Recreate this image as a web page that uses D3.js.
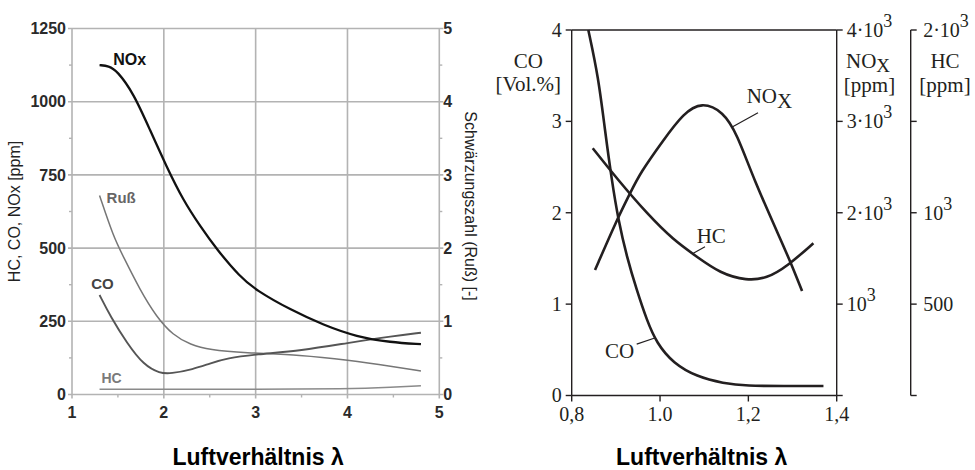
<!DOCTYPE html>
<html><head><meta charset="utf-8">
<script src="https://cdn.jsdelivr.net/npm/d3@7"></script>
<style>body{margin:0;background:#fff}</style>
</head><body><svg id="c" width="975" height="470"></svg>
<script>
// ---------- LEFT PANEL DATA ----------
const lambdaTicksL = [1, 2, 3, 4, 5];
const lambdaMinorL = [1.5, 2.5, 3.5, 4.5];
const ppmTicksL = [0, 250, 500, 750, 1000, 1250];
const ppmMinorL = [125, 375, 625, 875, 1125];
const russTicksL = [0, 1, 2, 3, 4, 5];

const noxLambdaL = [1.3, 1.4, 1.49, 1.67, 1.85, 2.03, 2.21, 2.4, 2.58, 2.83, 3.0, 3.38, 3.74, 4.1, 4.47, 4.8];
const noxPpmL    = [1125, 1122, 1106, 1029, 903, 778, 664, 573, 494, 402, 357, 289, 237, 197, 178, 172];

const russLambdaL = [1.3, 1.45, 1.56, 1.74, 1.92, 2.1, 2.29, 2.5, 2.87, 3.5, 4.0, 4.5, 4.8];
const russValL    = [2.72, 2.16, 1.88, 1.43, 1.06, 0.81, 0.68, 0.61, 0.57, 0.54, 0.47, 0.38, 0.32];

const coLambdaL = [1.3, 1.42, 1.6, 1.78, 1.96, 2.07, 2.32, 2.5, 2.69, 3.0, 3.5, 4.0, 4.5, 4.8];
const coPpmL    = [340, 266, 175, 101, 72, 71, 86, 106, 124, 137, 150, 176, 200, 211];

const hcLambdaL = [1.3, 2.0, 3.0, 4.0, 4.5, 4.8];
const hcPpmL    = [18, 18, 18, 19, 25, 30];

// ---------- RIGHT PANEL DATA ----------
const lambdaTicksR = [0.8, 1.0, 1.2, 1.4];
const lambdaLabelsR = ["0,8", "1.0", "1,2", "1,4"];
const coTicksR = [0, 1, 2, 3, 4];
const noxTickVals = [0, 1000, 2000, 3000, 4000];
const noxTickBase = ["", "10", "2·10", "3·10", "4·10"];
const noxTickExp  = ["", "3", "3", "3", "3"];
const hcTickVals = [0, 500, 1000, 1500, 2000];
const hcTickBase = ["", "500", "10", "", "2·10"];
const hcTickExp  = ["", "", "3", "", "3"];

const coLambdaR = [0.8376, 0.8602, 0.8754, 0.8906, 0.9056, 0.9246, 0.9472, 0.9699, 0.9925, 1.0301, 1.0831, 1.1434, 1.1964, 1.28, 1.37];
const coVolR    = [4.0, 3.49, 2.90, 2.36, 1.92, 1.52, 1.154, 0.826, 0.571, 0.352, 0.206, 0.133, 0.104, 0.104, 0.104];

const noxLambdaR = [0.8528, 0.9019, 0.9321, 0.9547, 1.0075, 1.0528, 1.0944, 1.1434, 1.1737, 1.2129, 1.2718, 1.2945, 1.3216];
const noxPpmR    = [1373, 1920, 2212, 2434, 2795, 3088, 3215, 3105, 2869, 2358, 1720, 1471, 1143];

const hcLambdaR = [0.8476, 0.9049, 0.9699, 1.0301, 1.0831, 1.1359, 1.1964, 1.2417, 1.2870, 1.3472];
const hcPpmR    = [1353, 1179, 997, 851, 760, 669, 628, 641, 705, 833];

// ---------- SETUP ----------
const svg = d3.select("#c");
const sans = "'Liberation Sans', Arial, sans-serif";
const serif = "'Liberation Serif', 'Times New Roman', serif";
const smooth = d3.curveBasis;
function drawCurve(g, xs, ys, xScale, yScale, color, width) {
  const pts = xs.map((x, i) => [x, ys[i]]);
  g.append("path").datum(pts)
    .attr("d", d3.line().x(d => xScale(d[0])).y(d => yScale(d[1])).curve(smooth))
    .attr("fill", "none").attr("stroke", color).attr("stroke-width", width)
    .attr("stroke-linecap", "butt").attr("stroke-linejoin", "round");
}

// ================= LEFT PANEL =================
const xL = d3.scaleLinear().domain([1, 5]).range([72, 439.3]);
const yL = d3.scaleLinear().domain([0, 1250]).range([394.5, 28.5]);
const yR = d3.scaleLinear().domain([0, 5]).range([394.5, 28.5]);
const gridCol = "#b3b3b3";

const L = svg.append("g");
L.selectAll("line.gv").data(lambdaTicksL).join("line")
  .attr("x1", d => xL(d)).attr("x2", d => xL(d))
  .attr("y1", yL(1250)).attr("y2", yL(0) + 4)
  .attr("stroke", gridCol).attr("stroke-width", 1.6);
L.selectAll("line.gh").data(ppmTicksL).join("line")
  .attr("x1", xL(1) - 4).attr("x2", xL(5) + 4)
  .attr("y1", d => yL(d)).attr("y2", d => yL(d))
  .attr("stroke", gridCol).attr("stroke-width", 1.6);
L.selectAll("line.ml").data(ppmMinorL).join("line")
  .attr("x1", xL(1) - 3).attr("x2", xL(1))
  .attr("y1", d => yL(d)).attr("y2", d => yL(d))
  .attr("stroke", gridCol).attr("stroke-width", 1.4);
L.selectAll("line.mr").data(ppmMinorL).join("line")
  .attr("x1", xL(5)).attr("x2", xL(5) + 3)
  .attr("y1", d => yL(d)).attr("y2", d => yL(d))
  .attr("stroke", gridCol).attr("stroke-width", 1.4);
L.selectAll("line.mb").data(lambdaMinorL).join("line")
  .attr("x1", d => xL(d)).attr("x2", d => xL(d))
  .attr("y1", yL(0)).attr("y2", yL(0) + 3)
  .attr("stroke", gridCol).attr("stroke-width", 1.4);

L.selectAll("text.yl").data(ppmTicksL).join("text")
  .attr("x", xL(1) - 6).attr("y", d => yL(d)).attr("dy", "0.36em")
  .attr("text-anchor", "end").attr("font-family", sans).attr("font-size", 16)
  .attr("font-weight", "bold").attr("fill", "#2a2a2a").text(d => d);
L.selectAll("text.yr").data(russTicksL).join("text")
  .attr("x", xL(5) + 4).attr("y", d => yR(d)).attr("dy", "0.36em")
  .attr("text-anchor", "start").attr("font-family", sans).attr("font-size", 16)
  .attr("font-weight", "bold").attr("fill", "#2a2a2a").text(d => d);
L.selectAll("text.xl").data(lambdaTicksL).join("text")
  .attr("x", d => xL(d)).attr("y", 418)
  .attr("text-anchor", "middle").attr("font-family", sans).attr("font-size", 16)
  .attr("font-weight", "bold").attr("fill", "#2a2a2a").text(d => d);

L.append("text").attr("transform", "translate(20,211.5) rotate(-90)")
  .attr("text-anchor", "middle").attr("font-family", sans).attr("font-size", 16)
  .attr("fill", "#222").text("HC, CO, NOx [ppm]");
L.append("text").attr("transform", "translate(465,206) rotate(90)")
  .attr("text-anchor", "middle").attr("font-family", sans).attr("font-size", 16)
  .attr("fill", "#222").text("Schwärzungszahl (Ruß) [-]");
L.append("text").attr("x", (xL(1) + xL(5)) / 2 + 2.5).attr("y", 465)
  .attr("text-anchor", "middle").attr("font-family", sans).attr("font-size", 23)
  .attr("font-weight", "bold").attr("fill", "#000").text("Luftverhältnis λ");

drawCurve(L, hcLambdaL, hcPpmL, xL, yL, "#8a8a8a", 1.5);
drawCurve(L, russLambdaL, russValL, xL, yR, "#767676", 1.5);
drawCurve(L, coLambdaL, coPpmL, xL, yL, "#555", 1.9);
drawCurve(L, noxLambdaL, noxPpmL, xL, yL, "#111", 2.3);

function lblL(text, lx, ly, size, color) {
  L.append("text").attr("x", xL(lx)).attr("y", yL(ly))
    .attr("font-family", sans).attr("font-size", size).attr("font-weight", "bold")
    .attr("fill", color).text(text);
}
lblL("NOx", 1.45, 1124, 16, "#111");
lblL("Ruß", 1.377, 653, 15, "#666");
lblL("CO", 1.21, 360, 15, "#444");
lblL("HC", 1.32, 39, 14, "#7a7a7a");

// ================= RIGHT PANEL =================
const xR = d3.scaleLinear().domain([0.8, 1.4]).range([571.7, 836.7]);
const yCO = d3.scaleLinear().domain([0, 4]).range([395.5, 30]);
const yNOx = d3.scaleLinear().domain([0, 4000]).range([395.5, 30]);
const yHC = d3.scaleLinear().domain([0, 2000]).range([395.5, 30]);
const ink = "#231f20";
const R = svg.append("g");

function ln(x1, y1, x2, y2, w) {
  R.append("line").attr("x1", x1).attr("y1", y1).attr("x2", x2).attr("y2", y2)
    .attr("stroke", ink).attr("stroke-width", w || 1.4);
}
ln(xR(0.8), yCO(4), xR(0.8), yCO(0));
ln(xR(0.8), yCO(0), xR(1.4), yCO(0));
ln(xR(0.8), yCO(4), xR(1.4), yCO(4));
ln(xR(1.4), yCO(4), xR(1.4), yCO(0));
const hcX = 910.7;
ln(hcX, yHC(2000), hcX, yHC(0));

R.selectAll("line.tco").data(coTicksR).join("line")
  .attr("x1", xR(0.8) - 6).attr("x2", xR(0.8))
  .attr("y1", d => yCO(d)).attr("y2", d => yCO(d))
  .attr("stroke", ink).attr("stroke-width", 1.4);
R.selectAll("text.tco").data(coTicksR).join("text")
  .attr("x", xR(0.8) - 10).attr("y", d => yCO(d)).attr("dy", "0.34em")
  .attr("text-anchor", "end").attr("font-family", serif).attr("font-size", 20)
  .attr("fill", ink).text(d => d);
R.selectAll("line.tx").data(lambdaTicksR).join("line")
  .attr("x1", d => xR(d)).attr("x2", d => xR(d))
  .attr("y1", yCO(0)).attr("y2", yCO(0) + 6)
  .attr("stroke", ink).attr("stroke-width", 1.4);
R.selectAll("text.tx").data(lambdaTicksR).join("text")
  .attr("x", d => xR(d)).attr("y", 421)
  .attr("text-anchor", "middle").attr("font-family", serif).attr("font-size", 20)
  .attr("fill", ink).text((d, i) => lambdaLabelsR[i]);
R.selectAll("line.tn").data(noxTickVals).join("line")
  .attr("x1", xR(1.4)).attr("x2", xR(1.4) + 6)
  .attr("y1", d => yNOx(d)).attr("y2", d => yNOx(d))
  .attr("stroke", ink).attr("stroke-width", 1.4);
function supLabel(xPos, yScale, vals, base, exp) {
  vals.forEach((v, i) => {
    if (!base[i]) return;
    const t = R.append("text").attr("x", xPos).attr("y", yScale(v)).attr("dy", "0.34em")
      .attr("font-family", serif).attr("font-size", 20).attr("fill", ink);
    t.append("tspan").text(base[i]);
    if (exp[i]) t.append("tspan").attr("dy", -10).attr("font-size", 18).text(exp[i]);
  });
}
supLabel(xR(1.4) + 10, yNOx, noxTickVals, noxTickBase, noxTickExp);
R.selectAll("line.th").data(hcTickVals).join("line")
  .attr("x1", hcX).attr("x2", hcX + 6)
  .attr("y1", d => yHC(d)).attr("y2", d => yHC(d))
  .attr("stroke", ink).attr("stroke-width", 1.4);
supLabel(hcX + 12.5, yHC, hcTickVals, hcTickBase, hcTickExp);

function rt(text, x, y, anchor, size) {
  return R.append("text").attr("x", x).attr("y", y).attr("text-anchor", anchor || "middle")
    .attr("font-family", serif).attr("font-size", size || 21).attr("fill", ink).text(text);
}
rt("CO", 528.3, 68.3);
rt("[Vol.%]", 528.3, 91);
const noT = R.append("text").attr("x", 846).attr("y", 68.3)
  .attr("font-family", serif).attr("font-size", 21).attr("fill", ink);
noT.append("tspan").text("NO");
noT.append("tspan").attr("dy", 4).attr("font-size", 19).text("X");
rt("[ppm]", 869.5, 92);
rt("HC", 945, 68.3);
rt("[ppm]", 945, 92);

R.append("text").attr("x", 701.7).attr("y", 465)
  .attr("text-anchor", "middle").attr("font-family", sans).attr("font-size", 23)
  .attr("font-weight", "bold").attr("fill", "#000").text("Luftverhältnis λ");

drawCurve(R, coLambdaR, coVolR, xR, yCO, ink, 2.6);
drawCurve(R, noxLambdaR, noxPpmR, xR, yNOx, ink, 2.6);
drawCurve(R, hcLambdaR, hcPpmR, xR, yHC, ink, 2.6);

// curve labels with leader lines (data coordinates)
const noxLeader = [[1.2218, 3094], [1.1645, 2941]];
ln(xR(noxLeader[0][0]), yNOx(noxLeader[0][1]), xR(noxLeader[1][0]), yNOx(noxLeader[1][1]), 1.2);
const nl = R.append("text").attr("x", xR(1.1962)).attr("y", yNOx(3197))
  .attr("font-family", serif).attr("font-size", 21).attr("fill", ink);
nl.append("tspan").text("NO");
nl.append("tspan").attr("dy", 5).text("X");

const hcLeader = [[1.1018, 814], [1.0754, 778]];
ln(xR(hcLeader[0][0]), yHC(hcLeader[0][1]), xR(hcLeader[1][0]), yHC(hcLeader[1][1]), 1.2);
rt("HC", xR(1.0830), yHC(836), "start");

const coLeader = [[0.9472, 0.563], [0.9864, 0.626]];
ln(xR(coLeader[0][0]), yCO(coLeader[0][1]), xR(coLeader[1][0]), yCO(coLeader[1][1]), 1.2);
rt("CO", xR(0.8754), yCO(0.407), "start");
</script>
</body></html>
